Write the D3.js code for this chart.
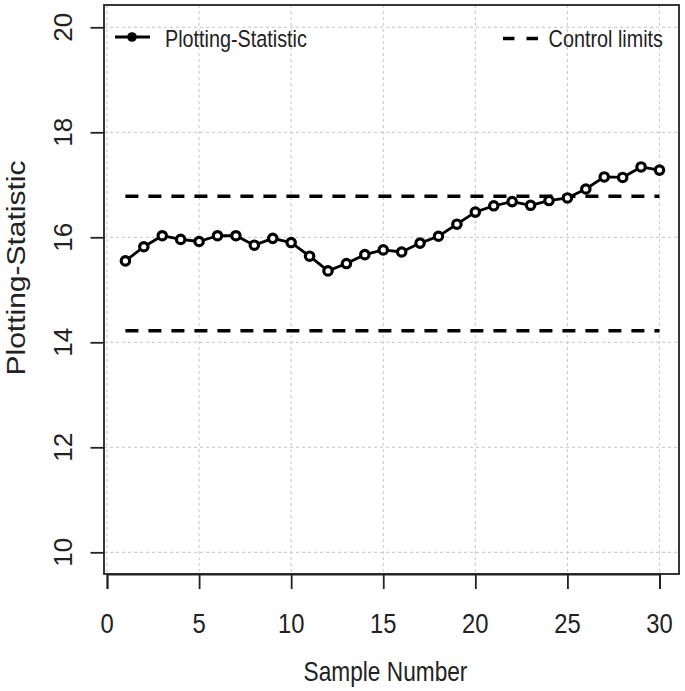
<!DOCTYPE html>
<html>
<head>
<meta charset="utf-8">
<script src="https://cdn.jsdelivr.net/npm/d3@7"></script>
<style>
html,body{margin:0;padding:0;background:#fff;}
svg{display:block;}
text{font-family:"Liberation Sans",Arial,Helvetica,sans-serif;fill:#222;}
</style>
</head>
<body>
<svg id="chart" width="685" height="691"></svg>
<script>
// ---- data ----
const sampleNumbers = d3.range(1, 31);
const plottingStatistic = [15.55, 15.82, 16.03, 15.96, 15.92, 16.03, 16.03, 15.85, 15.98, 15.90,
                           15.64, 15.36, 15.50, 15.67, 15.76, 15.72, 15.89, 16.02, 16.25, 16.48,
                           16.60, 16.68, 16.61, 16.70, 16.75, 16.92, 17.15, 17.14, 17.34, 17.28];
const upperControlLimit = 16.78;
const lowerControlLimit = 14.22;
const xTicks = [0, 5, 10, 15, 20, 25, 30];
const yTicks = [10, 12, 14, 16, 18, 20];
const xLabel = "Sample Number";
const yLabel = "Plotting-Statistic";
const legendLabels = ["Plotting-Statistic", "Control limits"];

// ---- layout ----
const svg = d3.select("#chart");
const box = {left: 104, right: 679, top: 5, bottom: 574};
const x = d3.scaleLinear().domain([0, 30]).range([107, 659.5]);
const y = d3.scaleLinear().domain([10, 20]).range([552.3, 27.3]);
const SX = 0.85;

// grid
const grid = svg.append("g");
grid.selectAll("line.v").data(xTicks).enter().append("line")
  .attr("x1", d => x(d)).attr("x2", d => x(d))
  .attr("y1", box.top).attr("y2", box.bottom)
  .attr("stroke", "#cfcfcf").attr("stroke-width", 1.2).attr("stroke-dasharray", "3,3");
grid.selectAll("line.h").data(yTicks).enter().append("line")
  .attr("y1", d => y(d)).attr("y2", d => y(d))
  .attr("x1", box.left).attr("x2", box.right)
  .attr("stroke", "#cfcfcf").attr("stroke-width", 1.2).attr("stroke-dasharray", "3,3");

// control limits
const cl = svg.append("g");
[upperControlLimit, lowerControlLimit].forEach(v => {
  cl.append("line")
    .attr("x1", x(1)).attr("x2", x(30))
    .attr("y1", y(v)).attr("y2", y(v))
    .attr("stroke", "#000").attr("stroke-width", 3.5)
    .attr("stroke-dasharray", "13,10");
});

// series line
const line = d3.line().x((d, i) => x(sampleNumbers[i])).y(d => y(d));
svg.append("path").datum(plottingStatistic)
  .attr("d", line).attr("fill", "none")
  .attr("stroke", "#000").attr("stroke-width", 2.8).attr("stroke-linejoin", "round");
svg.append("g").selectAll("circle").data(plottingStatistic).enter().append("circle")
  .attr("cx", (d, i) => x(sampleNumbers[i])).attr("cy", d => y(d))
  .attr("r", 4.2).attr("fill", "#fff").attr("stroke", "#000").attr("stroke-width", 3.2);

// box
svg.append("rect")
  .attr("x", box.left).attr("y", box.top)
  .attr("width", box.right - box.left).attr("height", box.bottom - box.top)
  .attr("fill", "none").attr("stroke", "#222").attr("stroke-width", 1.8);

// x axis
const xAxis = d3.axisBottom(x).tickValues(xTicks).tickSize(15).tickFormat("");
const gx = svg.append("g").attr("transform", `translate(0,${box.bottom})`).call(xAxis);
gx.select(".domain").attr("stroke", "#222").attr("stroke-width", 1.8);
gx.selectAll(".tick line").attr("stroke", "#222").attr("stroke-width", 1.8);
svg.append("g").selectAll("text").data(xTicks).enter().append("text")
  .attr("transform", d => `translate(${x(d)},633) scale(${SX},1)`)
  .attr("text-anchor", "middle").attr("font-size", 28).text(d => d);

// y axis
const yAxis = d3.axisLeft(y).tickValues(yTicks).tickSize(13.5).tickFormat("");
const gy = svg.append("g").attr("transform", `translate(${box.left},0)`).call(yAxis);
gy.select(".domain").attr("stroke", "none");
gy.selectAll(".tick line").attr("stroke", "#222").attr("stroke-width", 1.8);
svg.append("g").selectAll("text").data(yTicks).enter().append("text")
  .attr("transform", d => `translate(72,${y(d)}) rotate(-90)`)
  .attr("text-anchor", "middle").attr("font-size", 26).text(d => d);

// axis titles
svg.append("text")
  .attr("transform", `translate(${(box.left + box.right) / 2 - 6},681) scale(0.84,1)`)
  .attr("text-anchor", "middle").attr("font-size", 27).text(xLabel);
svg.append("text")
  .attr("transform", `translate(25,268) rotate(-90) scale(1.2,1)`)
  .attr("text-anchor", "middle").attr("font-size", 25).text(yLabel);

// legend
const lg = svg.append("g");
lg.append("line").attr("x1", 115).attr("x2", 150).attr("y1", 37).attr("y2", 37)
  .attr("stroke", "#000").attr("stroke-width", 2.8);
lg.append("circle").attr("cx", 132).attr("cy", 37).attr("r", 4.8).attr("fill", "#000");
lg.append("text").attr("transform", `translate(165,47.3) scale(${SX},1)`)
  .attr("font-size", 23.3).text(legendLabels[0]);
lg.append("line").attr("x1", 503).attr("x2", 538).attr("y1", 38.5).attr("y2", 38.5)
  .attr("stroke", "#000").attr("stroke-width", 3.5).attr("stroke-dasharray", "11.5,12");
lg.append("text").attr("transform", `translate(663,47.3) scale(${SX},1)`)
  .attr("text-anchor", "end").attr("font-size", 23.3).text(legendLabels[1]);
</script>
</body>
</html>
